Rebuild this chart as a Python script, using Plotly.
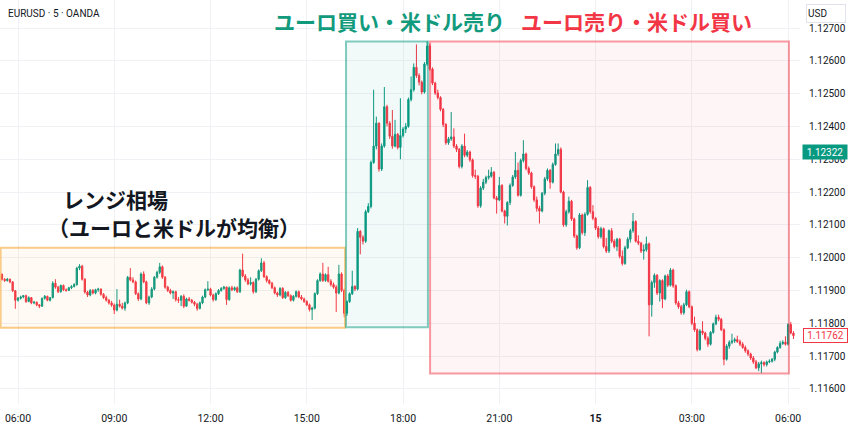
import pandas as pd
import plotly.graph_objects as go

# EUR/USD, 5-minute bars (OANDA), 2025-05-14 05:30 -> 2025-05-15 06:10
# Prices are stored in points (0.00001) above 1.11000.
BASE = 1.11

opens = [
    949, 934, 930, 934, 926, 899, 870, 876, 880, 884,
    866, 878, 862, 864, 856, 852, 876, 882, 870, 878,
    922, 910, 896, 915, 902, 900, 908, 912, 918, 968,
    974, 934, 895, 886, 900, 892, 902, 904, 888, 878,
    870, 862, 855, 840, 858, 852, 846, 862, 940, 932,
    926, 890, 874, 950, 926, 862, 880, 904, 940, 955,
    972, 940, 910, 900, 892, 896, 872, 870, 882, 852,
    874, 870, 864, 858, 845, 862, 880, 902, 904, 886,
    872, 890, 900, 906, 910, 872, 908, 902, 908, 896,
    962, 944, 932, 920, 924, 896, 934, 960, 984, 942,
    930, 922, 908, 892, 886, 906, 878, 894, 884, 870,
    882, 896, 880, 874, 866, 856, 842, 846, 890, 930,
    950, 930, 948, 928, 918, 910, 892, 950, 900, 830,
    866, 890, 912, 904, 1080, 1062, 1050, 1140, 1156, 1290,
    1340, 1410, 1270, 1340, 1460, 1410, 1370, 1340, 1376, 1336,
    1372, 1392, 1400, 1482, 1512, 1580, 1555, 1535, 1505, 1590,
    1645, 1575, 1532, 1502, 1488, 1452, 1406, 1350, 1362, 1368,
    1340, 1330, 1278, 1340, 1312, 1322, 1298, 1250, 1248, 1158,
    1212, 1230, 1244, 1248, 1260, 1182, 1176, 1220, 1142, 1126,
    1168, 1220, 1246, 1266, 1190, 1296, 1316, 1272, 1258, 1216,
    1176, 1150, 1142, 1196, 1240, 1266, 1230, 1284, 1316, 1330,
    1200, 1100, 1140, 1172, 1118, 1066, 1030, 1130, 1076, 1132,
    1214, 1140, 1120, 1090, 1064, 1088, 1034, 1020, 1082, 1050,
    1034, 1056, 1004, 982, 1030, 1056, 1082, 1110, 1050, 1044,
    1020, 1024, 1042, 856, 924, 946, 892, 930, 874, 944,
    916, 962, 914, 862, 850, 832, 856, 896, 850, 800,
    780, 720, 776, 770, 754, 736, 772, 798, 818, 812,
    780, 690, 730, 742, 746, 750, 744, 736, 726, 716,
    706, 694, 682, 664, 676, 680, 674, 682, 684, 690,
    712, 726, 738, 742, 736, 796, 770,
]
highs = [
    952, 937, 938, 936, 928, 901, 880, 884, 886, 887,
    882, 880, 868, 866, 858, 878, 886, 884, 880, 928,
    934, 914, 918, 918, 906, 911, 916, 922, 972, 980,
    978, 937, 899, 904, 904, 905, 908, 906, 892, 884,
    874, 868, 860, 904, 872, 862, 866, 944, 968, 940,
    930, 894, 955, 958, 930, 884, 910, 944, 960, 984,
    976, 944, 914, 905, 900, 899, 880, 886, 888, 878,
    880, 874, 868, 862, 866, 884, 906, 928, 908, 890,
    894, 904, 910, 914, 912, 912, 914, 912, 912, 966,
    1012, 950, 938, 940, 928, 938, 964, 998, 990, 946,
    934, 926, 912, 896, 910, 910, 898, 898, 888, 886,
    900, 900, 886, 878, 870, 860, 850, 894, 934, 955,
    984, 952, 972, 934, 924, 916, 978, 955, 905, 870,
    894, 960, 916, 1090, 1084, 1068, 1146, 1166, 1296, 1512,
    1430, 1412, 1348, 1520, 1466, 1416, 1450, 1420, 1380, 1486,
    1398, 1410, 1488, 1552, 1592, 1650, 1562, 1540, 1596, 1660,
    1652, 1580, 1536, 1512, 1492, 1456, 1410, 1368, 1444, 1394,
    1346, 1334, 1346, 1378, 1328, 1326, 1302, 1268, 1252, 1218,
    1240, 1250, 1268, 1276, 1264, 1188, 1246, 1224, 1146, 1172,
    1226, 1252, 1322, 1290, 1302, 1358, 1320, 1278, 1262, 1220,
    1186, 1158, 1200, 1246, 1272, 1270, 1290, 1348, 1348, 1336,
    1204, 1146, 1186, 1176, 1122, 1070, 1136, 1134, 1138, 1236,
    1218, 1160, 1124, 1096, 1094, 1092, 1060, 1086, 1090, 1056,
    1060, 1060, 1022, 1036, 1062, 1088, 1136, 1114, 1068, 1048,
    1040, 1064, 1046, 930, 952, 950, 934, 934, 948, 950,
    968, 966, 918, 868, 856, 862, 902, 900, 854, 820,
    784, 782, 806, 774, 760, 776, 802, 826, 826, 816,
    784, 736, 748, 768, 756, 762, 750, 742, 732, 720,
    710, 700, 688, 682, 686, 684, 686, 690, 694, 716,
    730, 746, 748, 760, 800, 804, 776,
]
lows = [
    930, 926, 927, 922, 895, 844, 866, 872, 876, 862,
    864, 858, 858, 852, 846, 850, 872, 867, 866, 876,
    905, 892, 893, 898, 896, 898, 904, 909, 914, 962,
    930, 890, 880, 882, 888, 888, 896, 884, 874, 866,
    857, 850, 828, 836, 848, 842, 838, 858, 928, 922,
    886, 868, 870, 922, 858, 856, 876, 900, 936, 950,
    935, 905, 895, 888, 874, 866, 862, 852, 846, 850,
    866, 860, 852, 838, 842, 858, 876, 898, 882, 866,
    868, 886, 896, 902, 856, 868, 898, 898, 892, 892,
    940, 926, 916, 915, 890, 892, 930, 956, 938, 924,
    918, 904, 888, 880, 882, 874, 874, 880, 866, 866,
    878, 876, 870, 862, 852, 836, 810, 842, 886, 926,
    926, 926, 924, 912, 905, 834, 888, 895, 818, 822,
    862, 886, 898, 900, 1010, 1040, 1045, 1136, 1150, 1286,
    1330, 1262, 1264, 1335, 1400, 1362, 1332, 1336, 1330, 1300,
    1366, 1380, 1396, 1476, 1506, 1548, 1525, 1498, 1500, 1585,
    1570, 1526, 1496, 1482, 1446, 1398, 1344, 1344, 1356, 1334,
    1322, 1272, 1272, 1306, 1306, 1292, 1244, 1240, 1152, 1152,
    1206, 1224, 1238, 1244, 1178, 1134, 1172, 1138, 1104, 1098,
    1160, 1216, 1240, 1186, 1186, 1290, 1266, 1252, 1210, 1170,
    1140, 1104, 1138, 1190, 1234, 1210, 1226, 1280, 1310, 1196,
    1094, 1094, 1134, 1112, 1060, 1024, 1026, 1070, 1066, 1128,
    1134, 1114, 1084, 1058, 1058, 1028, 1014, 1014, 1044, 1028,
    1020, 998, 976, 978, 1026, 1046, 1076, 1046, 1038, 1014,
    994, 1018, 760, 820, 908, 886, 866, 846, 870, 910,
    912, 908, 856, 844, 826, 826, 852, 846, 794, 774,
    714, 716, 764, 748, 728, 732, 768, 794, 806, 776,
    672, 686, 722, 736, 740, 740, 730, 722, 710, 700,
    688, 676, 660, 654, 648, 668, 668, 678, 680, 684,
    708, 722, 734, 732, 732, 766, 752,
]
closes = [
    934, 930, 934, 926, 899, 870, 876, 880, 884, 866,
    878, 862, 864, 856, 852, 876, 882, 870, 878, 922,
    910, 896, 915, 902, 900, 908, 912, 918, 968, 974,
    934, 895, 886, 900, 892, 902, 904, 888, 878, 870,
    862, 855, 840, 858, 852, 846, 862, 940, 932, 926,
    890, 874, 950, 926, 862, 880, 904, 940, 955, 972,
    940, 910, 900, 892, 896, 872, 870, 882, 852, 874,
    870, 864, 858, 845, 862, 880, 902, 904, 886, 872,
    890, 900, 906, 910, 872, 908, 902, 908, 896, 962,
    944, 932, 920, 924, 896, 934, 960, 984, 942, 930,
    922, 908, 892, 886, 906, 878, 894, 884, 870, 882,
    896, 880, 874, 866, 856, 842, 846, 890, 930, 950,
    930, 948, 928, 918, 910, 892, 950, 900, 830, 866,
    890, 912, 904, 1080, 1062, 1050, 1140, 1156, 1290, 1340,
    1410, 1270, 1340, 1460, 1410, 1370, 1340, 1376, 1336, 1372,
    1392, 1400, 1482, 1512, 1580, 1555, 1535, 1505, 1590, 1645,
    1575, 1532, 1502, 1488, 1452, 1406, 1350, 1362, 1368, 1340,
    1330, 1278, 1340, 1312, 1322, 1298, 1250, 1248, 1158, 1212,
    1230, 1244, 1248, 1260, 1182, 1176, 1220, 1142, 1126, 1168,
    1220, 1246, 1266, 1190, 1296, 1316, 1272, 1258, 1216, 1176,
    1150, 1142, 1196, 1240, 1266, 1230, 1284, 1316, 1330, 1200,
    1100, 1140, 1172, 1118, 1066, 1030, 1130, 1076, 1132, 1214,
    1140, 1120, 1090, 1064, 1088, 1034, 1020, 1082, 1050, 1034,
    1056, 1004, 982, 1030, 1056, 1082, 1110, 1050, 1044, 1020,
    1024, 1042, 856, 924, 946, 892, 930, 874, 944, 916,
    962, 914, 862, 850, 832, 856, 896, 850, 800, 780,
    720, 776, 770, 754, 736, 772, 798, 818, 812, 780,
    690, 730, 742, 746, 750, 744, 736, 726, 716, 706,
    694, 682, 664, 676, 680, 674, 682, 684, 690, 712,
    726, 738, 742, 736, 796, 770, 762,
]

times = pd.date_range("2025-05-14 05:30", periods=len(closes), freq="5min")

x_tick_times = ["2025-05-14 06:00", "2025-05-14 09:00", "2025-05-14 12:00",
                "2025-05-14 15:00", "2025-05-14 18:00", "2025-05-14 21:00",
                "2025-05-15 00:00", "2025-05-15 03:00", "2025-05-15 06:00"]
x_tick_text = ["06:00", "09:00", "12:00", "15:00", "18:00", "21:00",
               "<b>15</b>", "03:00", "06:00"]
y_ticks = [1.116, 1.117, 1.118, 1.119, 1.120, 1.121,
           1.122, 1.123, 1.124, 1.125, 1.126, 1.127]

last_price = 1.11762
marked_price = 1.12322

UP = "#089981"
DOWN = "#f23645"
INK = "#131722"
GRID = "#f0f1f4"
FONT = "Roboto, 'Noto Sans CJK JP', sans-serif"
JP = "'Noto Sans CJK JP', sans-serif"


def to_price(points):
    return [round(BASE + p / 1e5, 5) for p in points]


fig = go.Figure(go.Candlestick(
    x=times,
    open=to_price(opens), high=to_price(highs),
    low=to_price(lows), close=to_price(closes),
    increasing=dict(line=dict(color=UP, width=1), fillcolor=UP),
    decreasing=dict(line=dict(color=DOWN, width=1), fillcolor=DOWN),
    whiskerwidth=0,
    hoverinfo="skip",
))

# plot area: 800 x 404 px
PW, PH = 800.0, 404.0


def px_x(p):
    return p / PW


def px_y(p):
    return 1 - p / PH


# phase rectangles
boxes = [
    ("2025-05-14 05:27:30", "2025-05-14 16:11:30", 1.11786, 1.12030,
     "rgba(247,176,72,0.65)", "rgba(247,176,72,0.06)"),
    ("2025-05-14 16:13:20", "2025-05-14 18:46:30", 1.11788, 1.12659,
     "rgba(8,153,129,0.5)", "rgba(8,153,129,0.05)"),
    ("2025-05-14 18:50:30", "2025-05-15 06:01:30", 1.11647, 1.12659,
     "rgba(242,54,69,0.5)", "rgba(242,54,69,0.05)"),
]
for x0, x1, y0, y1, edge, fill in boxes:
    fig.add_shape(type="rect", xref="x", yref="y", x0=x0, x1=x1, y0=y0, y1=y1,
                  line=dict(color=edge, width=2), fillcolor=fill, layer="above")

ann = []
ann.append(dict(text="EURUSD · 5 · OANDA", xref="paper", yref="paper",
                x=px_x(6), y=px_y(13), xanchor="left", yanchor="middle",
                showarrow=False, font=dict(size=10, color=INK, family=FONT)))
ann.append(dict(text="<b>ユーロ買い・米ドル売り</b>", xref="paper", yref="paper",
                x=px_x(389), y=px_y(21), xanchor="center", yanchor="middle",
                showarrow=False, font=dict(size=21, color="#129a7d", family=JP)))
ann.append(dict(text="<b>ユーロ売り・米ドル買い</b>", xref="paper", yref="paper",
                x=px_x(636), y=px_y(21), xanchor="center", yanchor="middle",
                showarrow=False, font=dict(size=21, color=DOWN, family=JP)))
ann.append(dict(text="<b>レンジ相場</b>", xref="paper", yref="paper",
                x=px_x(61), y=px_y(199), xanchor="left", yanchor="middle",
                showarrow=False, font=dict(size=21, color=INK, family=JP)))
ann.append(dict(text="<b>（ユーロと米ドルが均衡）</b>", xref="paper", yref="paper",
                x=px_x(46), y=px_y(227), xanchor="left", yanchor="middle",
                showarrow=False, font=dict(size=21, color=INK, family=JP)))
# price scale badges
ann.append(dict(text="USD", xref="paper", yref="paper",
                x=px_x(826), y=px_y(13), xanchor="center", yanchor="middle",
                showarrow=False, width=36, height=15, align="left",
                bordercolor="#e0e3eb", borderwidth=1, borderpad=1, bgcolor="white",
                font=dict(size=10, color=INK, family=FONT)))
ann.append(dict(text=f"{marked_price:.5f}", xref="paper", yref="y",
                x=px_x(825), y=marked_price, xanchor="center", yanchor="middle",
                showarrow=False, width=42, height=12, borderpad=1, bgcolor=UP,
                font=dict(size=10, color="white", family=FONT)))
ann.append(dict(text=f"{last_price:.5f}", xref="paper", yref="y",
                x=px_x(825), y=last_price, xanchor="center", yanchor="middle",
                showarrow=False, width=41, height=11, borderpad=1, bgcolor="white",
                bordercolor=DOWN, borderwidth=1,
                font=dict(size=10, color=DOWN, family=FONT)))

fig.update_layout(
    width=850, height=427,
    margin=dict(l=0, r=50, t=0, b=23),
    paper_bgcolor="white", plot_bgcolor="white",
    showlegend=False,
    font=dict(family=FONT, color=INK),
    annotations=ann,
)
fig.update_xaxes(
    type="date",
    range=["2025-05-14 05:26:21", "2025-05-15 06:22:13"],
    rangeslider=dict(visible=False),
    tickvals=x_tick_times, ticktext=x_tick_text,
    showgrid=True, gridcolor=GRID, gridwidth=1,
    zeroline=False, showline=False, ticks="",
    ticklabelstandoff=6,
    tickfont=dict(size=10.5, color=INK, family=FONT),
    automargin=False,
)
fig.update_yaxes(
    side="right",
    range=[1.115537, 1.127854],
    tickvals=y_ticks, tickformat=".5f",
    showgrid=True, gridcolor=GRID, gridwidth=1,
    zeroline=False, showline=False, ticks="",
    ticklabelstandoff=8,
    tickfont=dict(size=10, color=INK, family=FONT),
    automargin=False,
)

fig.write_html("out.html")
